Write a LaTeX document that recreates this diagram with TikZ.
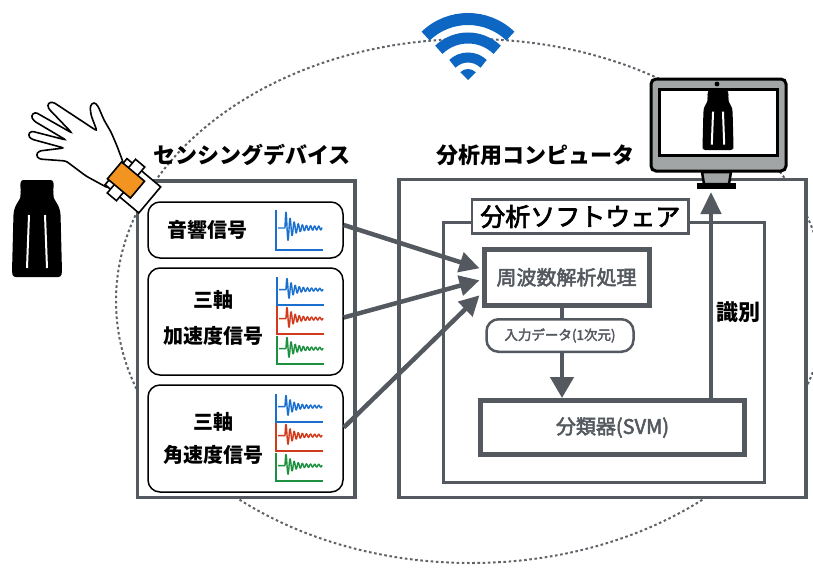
\documentclass[tikz,border=0pt]{standalone}
\usepackage{fontspec}
\setmainfont{Noto Sans CJK JP}
\usetikzlibrary{arrows.meta,calc}

% slightly heavier text: fill and stroke the glyph outlines
\newcommand{\heavier}[2]{\special{pdf:literal direct 2 Tr #1 w}#2\special{pdf:literal direct 0 Tr}}

\definecolor{frame}{HTML}{54595F}
\definecolor{ringgray}{HTML}{5F6368}
\definecolor{wifiblue}{HTML}{0D66C2}
\definecolor{bandorange}{HTML}{F39420}
\definecolor{monitorgray}{HTML}{A1A5A5}
\definecolor{sigblue}{HTML}{1A6FCF}
\definecolor{sigred}{HTML}{D23A1C}
\definecolor{siggreen}{HTML}{1E9140}

\tikzset{
  panel/.style={draw=frame, line width=3.5, fill=white},
  swbox/.style={draw=frame, line width=3, fill=white},
  proc/.style={draw=frame, line width=5, fill=white, text=frame,
    font=\fontsize{20}{22}\selectfont, inner sep=0},
  sigbox/.style={draw=black, line width=1.5, rounded corners=12, fill=white,
    font=\bfseries\fontsize{20}{34}\selectfont, align=center, inner sep=0},
  tag/.style={draw=frame, line width=2.5, rounded corners=12, fill=white,
    text=frame, font=\fontsize{13.5}{15}\selectfont, inner sep=0},
  heading/.style={font=\bfseries\fontsize{22}{24}\selectfont, inner sep=0},
  flow/.style={draw=frame, line width=4.5, -{Triangle[length=20pt,width=20pt]}},
  ring/.style={draw=ringgray, line width=2, dash pattern=on 2.6pt off 2.6pt},
  wifiband/.style={draw=wifiblue, line cap=butt},
  outline/.style={draw=black, line width=1.6, fill=white},
  pics/shaker/.style={code={
    \fill[black, rounded corners=2.5]
      (-16,0) -- (16,0) -- (17,7) -- (15.5,10) -- (17,13) -- (16,17)
      -- (18,20) -- (22,27) -- (23.5,33) -- (25,92) -- (24,97) -- (-24,97) -- (-25,92)
      -- (-23.5,33) -- (-22,27) -- (-18,20) -- (-16,17) -- (-17,13) -- (-15.5,10)
      -- (-17,7) -- cycle;
    \draw[white, line width=2] (-8,35) -- (-10,88);
    \draw[white, line width=2] (8,35) -- (10,88);
  }},
}

% waveform icon: left x, bottom y, height, colour
\newcommand{\sigicon}[4]{%
  \draw[#4, line width=1.6] ({#1},{#2-#3}) -- ({#1},{#2}) -- ({#1+47},{#2});
  \draw[#4, line width=1.4, line join=round]
    ({#1+2},{#2-0.55*#3}) -- ({#1+9},{#2-0.55*#3})
    -- plot[domain=0:37, samples=160]
      ({#1+9+\x},{#2-0.55*#3-0.45*#3*(0.1+0.9*exp(-\x/7))*sin(\x*88)});
}

\begin{document}
\begin{tikzpicture}[x=1pt, y=-1pt]
\useasboundingbox (0,0) rectangle (813,568);
\clip (0,0) rectangle (813,568);

% dotted wireless range
\draw[ring] (471,301) ellipse [x radius=355, y radius=262];

% wifi symbol
\coordinate (wifi) at (468,80);
\fill[wifiblue] (wifi) -- ++(-135:11) arc[start angle=-135, end angle=-45, radius=11] -- cycle;
\draw[wifiband, line width=10] (wifi) ++(-134:22.5) arc[start angle=-134, end angle=-46, radius=22.5];
\draw[wifiband, line width=11] (wifi) ++(-134:42) arc[start angle=-134, end angle=-46, radius=42];
\draw[wifiband, line width=12] (wifi) ++(-134:61) arc[start angle=-134, end angle=-46, radius=61];

% sensing device
\node[panel, minimum width=217.5, minimum height=316.5] (dev) at (246.3,339.3) {};
\node[heading] (devtitle) at (252,155) {センシングデバイス};

\node[sigbox, minimum width=195, minimum height=56] (b1) at (245.5,230) {};
\node[sigbox, minimum width=195, minimum height=107] (b2) at (245.5,321.5) {};
\node[sigbox, minimum width=195, minimum height=107] (b3) at (245.5,438.5) {};
\node[font=\bfseries\fontsize{20}{22}\selectfont] (t1) at (207,230) {音響信号};
\node[font=\bfseries\fontsize{20}{36}\selectfont, align=center] (t2) at (213,318) {三軸\\加速度信号};
\node[font=\bfseries\fontsize{20}{33}\selectfont, align=center] (t3) at (213,438) {三軸\\角速度信号};

\sigicon{276}{250}{40}{sigblue}
\sigicon{277}{305}{28}{sigblue}
\sigicon{277}{334}{28}{sigred}
\sigicon{277}{364}{28}{siggreen}
\sigicon{276}{422}{28}{sigblue}
\sigicon{276}{451}{28}{sigred}
\sigicon{276}{481}{28}{siggreen}

% computer
\node[panel, minimum width=407, minimum height=318] (pc) at (602.5,338.5) {};
\node[heading] (pctitle) at (535,155) {分析用コンピュータ};

\node[swbox, line width=3, minimum width=321, minimum height=260] (sw) at (603.5,352) {};
\node[swbox, line width=2.8, minimum width=216.5, minimum height=34,
      font=\fontsize{25}{27}\selectfont, inner sep=0] (swtitle) at (580.3,216.5) {\heavier{0.7}{分析ソフトウェア}};

\node[proc, minimum width=165, minimum height=56.5] (freq) at (566.5,277.3) {\heavier{0.5}{周波数解析処理}};
\node[proc, minimum width=264, minimum height=54] (svm) at (612.5,427.5) {\heavier{0.5}{分類器(SVM)}};

\coordinate (vx) at (562,0);
\draw[flow, -{Triangle[length=21pt,width=23pt]}] (freq.south -| vx) -- (svm.north -| vx);
\node[tag, minimum width=147, minimum height=32.5] (input) at (560,335.5) {\heavier{0.35}{入力データ(1次元)}};

% signals into the analysis
\draw[flow] ($(b1.east)+(0,-5)$) -- ($(freq.west)+(-2,-9)$);
\draw[flow] ($(b2.east)+(0,-4)$) -- ($(freq.west)+(-2,3)$);
\draw[flow] ($(b3.east)+(0,-11)$) -- ($(freq.west)+(-2,18)$);

% identification result to the display
\coordinate (monbase) at (711,192);
\draw[flow, -{Triangle[length=22pt,width=20pt]}] (svm.north -| monbase) -- (monbase);
\node[font=\bfseries\fontsize{22}{24}\selectfont, inner sep=0] (idlabel) at (738,312) {識別};

% monitor
\draw[black, line width=3, fill=monitorgray, rounded corners=5] (651,79) rectangle (786,171);
\draw[black, line width=3, fill=white] (659,89) rectangle (777,155);
\fill[black] (717,84) circle[radius=2.4];
\draw[black, line width=2.5, fill=monitorgray] (702,172) -- (731,172) -- (729,184) -- (704,184) -- cycle;
\fill[black] (697,183) rectangle (736,189);
\pic[scale=0.62] at (718,90) {shaker};

% shaker beside the hand
\pic at (37,180) {shaker};

% hand wearing the sensor
\draw[outline, rounded corners=2.5]
  (108,188) -- (86,176) -- (66,161) -- (39,159) -- (36,155) -- (39,151)
  -- (64,148) -- (31,139) -- (28,135) -- (31,131) -- (66,140)
  -- (34,121) -- (31,116) -- (35,112) -- (72,133)
  -- (48,108) -- (48,103) -- (53,102) -- (97,131)
  -- (91,115) -- (90,106) -- (94,102) -- (98,106) -- (104,120)
  -- (111,132) -- (117,146) -- (123,162) -- (126,180) -- cycle;
\begin{scope}[shift={(126,180)}, rotate=-40]
  \draw[outline] (-13,-17) rectangle (31,17);
  \draw[outline] (-6,-22) rectangle (6,22);
  \draw[outline, fill=bandorange] (-15,-11) rectangle (15,11);
\end{scope}

\end{tikzpicture}
\end{document}
